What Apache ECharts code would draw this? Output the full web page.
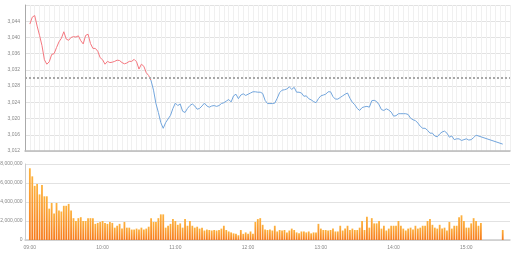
<!DOCTYPE html>
<html>
<head>
<meta charset="utf-8">
<script src="https://cdn.jsdelivr.net/npm/echarts@6/dist/echarts.min.js"></script>
<style>html,body{margin:0;padding:0;background:#fff}#c{width:512px;height:253px}</style>
</head>
<body>
<div id="c"></div>
<script>
// time slots (HH:MM)
const times = (
"09:00 09:02 09:04 09:06 09:08 09:10 09:12 09:14 09:16 09:18 09:20 09:22 09:24 09:26 09:28 09:30 09:32 09:34 09:36 09:38 09:40 09:42 09:44 09:46 09:48 09:50 09:52 09:54 09:56 09:58 " +
"10:00 10:02 10:04 10:06 10:08 10:10 10:12 10:14 10:16 10:18 10:20 10:22 10:24 10:26 10:28 10:30 10:32 10:34 10:36 10:38 10:40 10:42 10:44 10:46 10:48 10:50 10:52 10:54 10:56 10:58 " +
"11:00 11:02 11:04 11:06 11:08 11:10 11:12 11:14 11:16 11:18 11:20 11:22 11:24 11:26 11:28 11:30 11:32 11:34 11:36 11:38 11:40 11:42 11:44 11:46 11:48 11:50 11:52 11:54 11:56 11:58 " +
"12:00 12:02 12:04 12:06 12:08 12:10 12:12 12:14 12:16 12:18 12:20 12:22 12:24 12:26 12:28 12:30 12:32 12:34 12:36 12:38 12:40 12:42 12:44 12:46 12:48 12:50 12:52 12:54 12:56 12:58 " +
"13:00 13:02 13:04 13:06 13:08 13:10 13:12 13:14 13:16 13:18 13:20 13:22 13:24 13:26 13:28 13:30 13:32 13:34 13:36 13:38 13:40 13:42 13:44 13:46 13:48 13:50 13:52 13:54 13:56 13:58 " +
"14:00 14:02 14:04 14:06 14:08 14:10 14:12 14:14 14:16 14:18 14:20 14:22 14:24 14:26 14:28 14:30 14:32 14:34 14:36 14:38 14:40 14:42 14:44 14:46 14:48 14:50 14:52 14:54 14:56 14:58 " +
"15:00 15:02 15:04 15:06 15:08 15:10 15:12 15:30").split(" ");

const prices = [
3.0433,3.0450,3.0454,3.0428,3.0405,3.0380,3.0345,3.0334,3.0340,3.0358,
3.0360,3.0375,3.0389,3.0398,3.0414,3.0396,3.0393,3.0400,3.0402,3.0401,
3.0404,3.0392,3.0384,3.0405,3.0408,3.0385,3.0373,3.0373,3.0366,3.0350,
3.0345,3.0334,3.0341,3.0338,3.0339,3.0341,3.0344,3.0343,3.0338,3.0335,
3.0337,3.0341,3.0341,3.0346,3.0340,3.0322,3.0334,3.0329,3.0313,3.0306,
3.0293,3.0270,3.0237,3.0215,3.0190,3.0176,3.0190,3.0199,3.0208,3.0225,
3.0238,3.0232,3.0236,3.0218,3.0215,3.0225,3.0232,3.0236,3.0231,3.0223,
3.0225,3.0231,3.0238,3.0231,3.0228,3.0231,3.0232,3.0230,3.0232,3.0237,
3.0239,3.0243,3.0247,3.0241,3.0256,3.0260,3.0249,3.0258,3.0261,3.0257,
3.0260,3.0263,3.0266,3.0266,3.0265,3.0265,3.0262,3.0245,3.0237,3.0237,
3.0237,3.0238,3.0250,3.0264,3.0270,3.0271,3.0273,3.0278,3.0272,3.0277,
3.0265,3.0265,3.0263,3.0255,3.0256,3.0249,3.0246,3.0242,3.0239,3.0249,
3.0256,3.0258,3.0260,3.0266,3.0266,3.0254,3.0248,3.0248,3.0252,3.0256,
3.0260,3.0263,3.0250,3.0240,3.0234,3.0225,3.0220,3.0227,3.0229,3.0230,
3.0228,3.0244,3.0245,3.0242,3.0234,3.0222,3.0220,3.0224,3.0221,3.0216,
3.0206,3.0207,3.0212,3.0212,3.0212,3.0212,3.0210,3.0201,3.0197,3.0195,
3.0189,3.0181,3.0176,3.0176,3.0171,3.0164,3.0164,3.0157,3.0155,3.0162,
3.0167,3.0169,3.0164,3.0154,3.0157,3.0148,3.0150,3.0150,3.0146,3.0148,
3.0150,3.0147,3.0148,3.0153,3.0159,null,null,3.0137];

const volumes = [
7550000,6700000,5700000,5900000,4800000,5800000,4600000,4600000,3300000,3900000,
2800000,3900000,3100000,3000000,3600000,3600000,3800000,3100000,2300000,2000000,
2300000,2400000,2000000,2000000,2300000,2300000,2300000,1700000,1800000,1900000,
2000000,1800000,1700000,1900000,1800000,1300000,1500000,1700000,1200000,1900000,
1300000,1300000,1100000,1100000,1200000,1100000,1300000,1100000,1200000,1400000,
2300000,1900000,1900000,2300000,2700000,2700000,1300000,1500000,1700000,2200000,
2000000,1600000,1750000,1300000,2200000,1500000,2000000,1500000,1300000,1400000,
1200000,1300000,1000000,1100000,1050000,1000000,1050000,1000000,1050000,1200000,
1500000,1050000,900000,800000,700000,650000,500000,1050000,650000,800000,
650000,900000,650000,1900000,2200000,2300000,1600000,1100000,1050000,1100000,
1000000,1500000,900000,1050000,1000000,1050000,800000,1000000,1200000,1050000,
800000,700000,900000,900000,800000,900000,700000,800000,800000,1700000,
1200000,1050000,1050000,1000000,1050000,1200000,900000,900000,1500000,1000000,
1200000,1500000,1050000,1200000,1050000,1050000,1300000,2000000,1050000,2450000,
1300000,2300000,1750000,1750000,2000000,1200000,1500000,1000000,1200000,1500000,
1500000,1500000,2000000,1500000,1200000,1000000,1200000,1300000,1100000,1500000,
1200000,1300000,1500000,1500000,2000000,2200000,1600000,1300000,1200000,1600000,
1200000,1300000,1000000,1900000,1200000,1500000,1500000,2400000,2600000,2000000,
1300000,1300000,1750000,2300000,2000000,1500000,1800000,1050000];

const preClose = 3.0294;
const priceTicks = [3.012, 3.048, 0.004];   // min, max, step
const volumeTicks = [0, 8000000, 2000000];

const toMin = s => { const p = s.split(":"); return (+p[0]) * 60 + (+p[1]); };
const lineData = [];
times.forEach((t, i) => { if (prices[i] != null) lineData.push([toMin(t), prices[i]]); });
const barData = times.map((t, i) => [toMin(t), volumes[i]]);

const labelStyle = { color: '#888', fontSize: 5, fontFamily: 'Liberation Sans, Arial, sans-serif' };
const X_MIN = 536, X_MAX = 936;

const chart = echarts.init(document.getElementById('c'), null, { renderer: 'canvas' });
chart.setOption({
  animation: false,
  grid: [
    { left: 25, right: 2, top: 5, height: 146, outerBoundsMode: 'none', containLabel: false },
    { left: 25, right: 2, top: 164, height: 76, outerBoundsMode: 'none', containLabel: false }
  ],
  xAxis: [
    { type: 'value', gridIndex: 0, min: X_MIN, max: X_MAX, interval: 4,
      axisLabel: { show: false }, axisTick: { show: false },
      axisLine: { show: true, lineStyle: { color: '#bbb', width: 1.5 } },
      splitLine: { show: true, lineStyle: { color: '#f0f0f0', width: 1 } } },
    { type: 'value', gridIndex: 1, min: X_MIN, max: X_MAX, interval: 4,
      axisTick: { show: false },
      axisLine: { show: true, lineStyle: { color: '#ccc', width: 1.5 } },
      splitLine: { show: false },
      axisLabel: Object.assign({ margin: 5,
        formatter: v => (v % 60 === 0) ? (String(Math.floor(v / 60)).padStart(2, '0') + ':00') : '' }, labelStyle) }
  ],
  yAxis: [
    { type: 'value', gridIndex: 0, min: priceTicks[0], max: priceTicks[1], interval: priceTicks[2],
      axisLine: { show: true, lineStyle: { color: '#aaa', width: 1 } }, axisTick: { show: false },
      splitLine: { lineStyle: { color: '#e2e2e2', width: 1 } },
      axisLabel: Object.assign({ margin: 5,
        formatter: v => v > priceTicks[1] - priceTicks[2] / 2 ? '' : v.toFixed(3).replace('.', ',') }, labelStyle) },
    { type: 'value', gridIndex: 1, min: volumeTicks[0], max: volumeTicks[1], interval: volumeTicks[2],
      axisLine: { show: true, lineStyle: { color: '#ccc', width: 1 } }, axisTick: { show: false },
      splitLine: { lineStyle: { color: '#e2e2e2', width: 1 } },
      axisLabel: Object.assign({ margin: 2.5 }, labelStyle) }
  ],
  visualMap: {
    show: false, type: 'piecewise', seriesIndex: 0, dimension: 1,
    pieces: [ { gt: preClose, lte: 10, color: '#f4777f' }, { gt: 0, lte: preClose, color: '#72a5dc' } ],
    outOfRange: { color: '#72a5dc' }
  },
  series: [
    { type: 'line', xAxisIndex: 0, yAxisIndex: 0, data: lineData, showSymbol: false,
      lineStyle: { width: 1 },
      markLine: { silent: true, symbol: 'none', label: { show: false },
        lineStyle: { color: '#a8a8a8', type: 'dotted', width: 2 },
        data: [ { yAxis: preClose } ] } },
    { type: 'bar', xAxisIndex: 1, yAxisIndex: 1, data: barData, barWidth: 1.8,
      itemStyle: { color: new echarts.graphic.LinearGradient(0, 0, 0, 1, [
        { offset: 0, color: '#fdb23e' }, { offset: 1, color: '#f67a1c' } ]) } }
  ]
});
</script>
</body>
</html>
